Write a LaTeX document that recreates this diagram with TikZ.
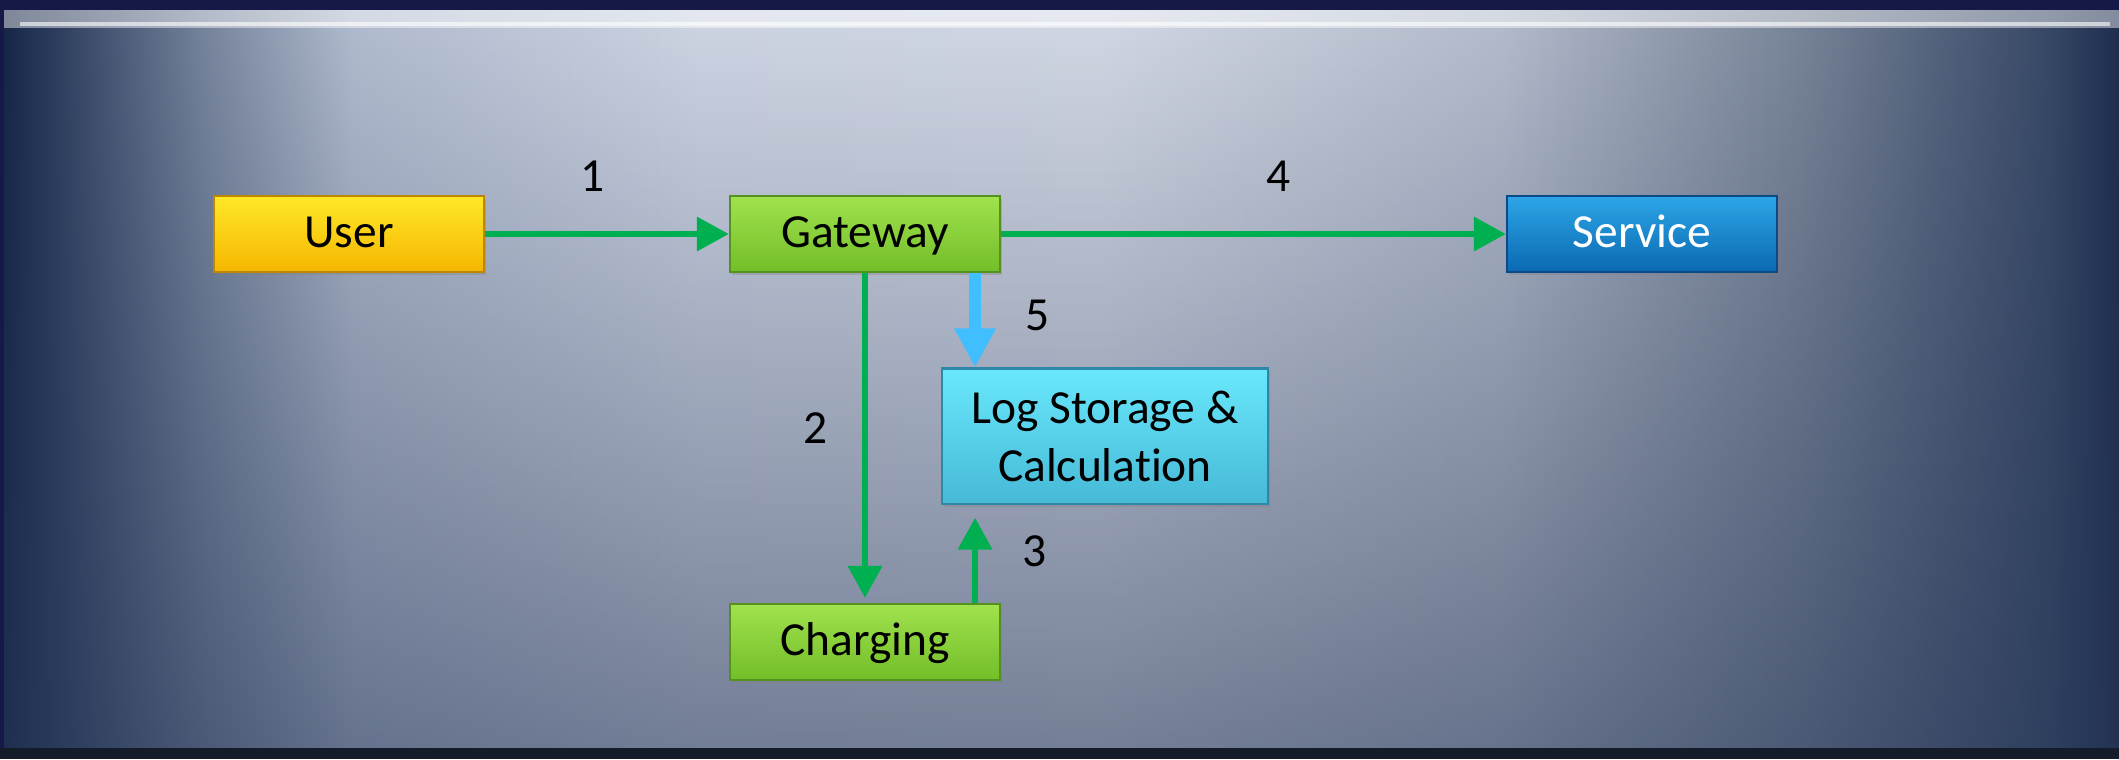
\documentclass[tikz,border=0pt]{standalone}
\usepackage{fontspec}
\setmainfont[Ligatures=NoCommon]{Carlito}
\usetikzlibrary{arrows.meta,fadings,shadows}

\definecolor{navy}{RGB}{22,24,72}
\definecolor{edgedark}{RGB}{20,28,42}
\definecolor{shadowblue}{RGB}{40,55,88}
\definecolor{pA}{RGB}{22,38,70}
\definecolor{pB}{RGB}{50,66,98}
\definecolor{pC}{RGB}{118,132,156}
\definecolor{pD}{RGB}{178,188,207}
\definecolor{pE}{RGB}{206,213,227}
\definecolor{pF}{RGB}{210,216,228}
\definecolor{pG}{RGB}{180,188,204}
\definecolor{pH}{RGB}{120,132,152}
\definecolor{pI}{RGB}{55,72,102}
\definecolor{pJ}{RGB}{30,45,78}
\definecolor{flowgreen}{RGB}{0,176,80}
\definecolor{flowblue}{RGB}{64,190,255}
\definecolor{userTop}{RGB}{255,232,40}
\definecolor{userBot}{RGB}{245,182,0}
\definecolor{userEdge}{RGB}{190,135,0}
\definecolor{gwTop}{RGB}{160,226,78}
\definecolor{gwBot}{RGB}{115,190,40}
\definecolor{gwEdge}{RGB}{85,145,30}
\definecolor{logTop}{RGB}{105,232,252}
\definecolor{logBot}{RGB}{70,185,215}
\definecolor{logEdge}{RGB}{45,135,165}
\definecolor{svcTop}{RGB}{45,165,230}
\definecolor{svcBot}{RGB}{10,105,178}
\definecolor{svcEdge}{RGB}{10,75,135}

% slide panel: light in the middle, dark at both sides
\pgfdeclarehorizontalshading{panel}{100bp}{color(0bp)=(pA); color(25bp)=(pA); color(26.42bp)=(pB);
  color(29.72bp)=(pC); color(33.26bp)=(pD); color(41.52bp)=(pE); color(50.96bp)=(pF);
  color(60.4bp)=(pG); color(67.47bp)=(pH); color(73.37bp)=(pI); color(75bp)=(pJ); color(100bp)=(pJ)}
\tikzfading[name=fadedown, top color=transparent!100, middle color=transparent!85, bottom color=transparent!45]

\tikzset{
  box/.style={rectangle, line width=0.6pt, minimum width=2.7cm, minimum height=0.76cm, inner sep=0pt,
    font=\fontsize{13.5}{16.5}\selectfont, drop shadow={shadow xshift=0.02cm, shadow yshift=-0.03cm, opacity=0.35}},
  oneline/.style={text height=0.95em, text depth=0.2em},
  userbox/.style={box, oneline, draw=userEdge, top color=userTop, bottom color=userBot},
  greenbox/.style={box, oneline, draw=gwEdge, top color=gwTop, bottom color=gwBot},
  logbox/.style={box, draw=logEdge, top color=logTop, bottom color=logBot, minimum width=3.25cm,
    minimum height=1.35cm, align=center},
  servicebox/.style={box, oneline, draw=svcEdge, top color=svcTop, bottom color=svcBot, text=white},
  flow/.style={flowgreen, line width=0.065cm, -{Triangle[length=0.32cm, width=0.33cm]}},
  logflow/.style={flowblue, line width=0.126cm, -{Triangle[length=0.39cm, width=0.39cm]}},
  lbl/.style={font=\fontsize{13.5}{16}\selectfont, inner sep=2pt, text=black}
}

\begin{document}
\begin{tikzpicture}[x=0.01cm, y=-0.01cm]
\useasboundingbox (0,0) rectangle (2119,759);
% backdrop
\fill[navy] (0,0) rectangle (2119,759);
\shade[shading=panel] (4,10) rectangle (2119,748);
\fill[shadowblue, path fading=fadedown] (4,10) rectangle (2119,748);
\fill[white, opacity=0.45] (4,10) rectangle (2119,28);
\draw[white, line width=0.04cm, opacity=0.6] (20,24) -- (2110,24);
\fill[edgedark] (0,748) rectangle (2119,759);

% blocks
\node[userbox] (User) at (349,234) {User};
\node[greenbox] (Gateway) at (865,234) {Gateway};
\node[servicebox] (Service) at (1642,234) {Service};
\node[logbox] (Log) at (1105,436) {Log Storage \&\\Calculation};
\node[greenbox] (Charging) at (865,642) {Charging};

% flows
\draw[flow] (User) -- (Gateway) node[lbl, pos=0.44, above=0.32cm]{1};
\draw[flow, shorten >=0.05cm] (Gateway) -- (Charging) node[lbl, pos=0.47, left=0.27cm]{2};
\draw[flow] ([xshift=1.1cm]Charging.north) -- ([xshift=1.1cm, yshift=-0.13cm]Charging.north |- Log.south)
  node[lbl, pos=0.61, right=0.37cm]{3};
\draw[flow] (Gateway) -- (Service) node[lbl, pos=0.55, above=0.32cm]{4};
\draw[logflow] ([xshift=1.1cm]Gateway.south) -- ([xshift=1.1cm]Gateway.south |- Log.north)
  node[lbl, pos=0.45, right=0.37cm]{5};
\end{tikzpicture}
\end{document}
